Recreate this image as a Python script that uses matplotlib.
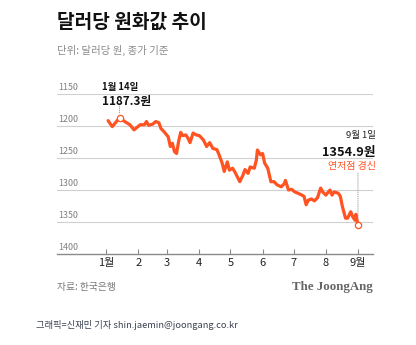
import matplotlib
matplotlib.use("Agg")
import matplotlib.pyplot as plt
import pandas as pd

plt.rcParams['font.family'] = ['Noto Sans CJK KR', 'DejaVu Sans']

# ---------------- data ----------------
dates = ["2022-01-03", "2022-01-07", "2022-01-14", "2022-01-19", "2022-01-24", "2022-01-28",
         "2022-02-03", "2022-02-07", "2022-02-09", "2022-02-11", "2022-02-15", "2022-02-18",
         "2022-02-21", "2022-02-23", "2022-02-26", "2022-03-02", "2022-03-04", "2022-03-06",
         "2022-03-08", "2022-03-10", "2022-03-12", "2022-03-14", "2022-03-16", "2022-03-19",
         "2022-03-21", "2022-03-23", "2022-03-26", "2022-03-29", "2022-04-01", "2022-04-05",
         "2022-04-08", "2022-04-11", "2022-04-14", "2022-04-18", "2022-04-20", "2022-04-23",
         "2022-04-25", "2022-04-28", "2022-04-30", "2022-05-03", "2022-05-05", "2022-05-10",
         "2022-05-13", "2022-05-15", "2022-05-18", "2022-05-20", "2022-05-24", "2022-05-26",
         "2022-05-27", "2022-05-30", "2022-06-01", "2022-06-03", "2022-06-06", "2022-06-09",
         "2022-06-12", "2022-06-15", "2022-06-19", "2022-06-22", "2022-06-23", "2022-06-26",
         "2022-06-29", "2022-07-02", "2022-07-05", "2022-07-09", "2022-07-11", "2022-07-13",
         "2022-07-15", "2022-07-18", "2022-07-21", "2022-07-24", "2022-07-27", "2022-07-29",
         "2022-08-01", "2022-08-05", "2022-08-07", "2022-08-09", "2022-08-13", "2022-08-15",
         "2022-08-17", "2022-08-20", "2022-08-22", "2022-08-25", "2022-08-27", "2022-08-29",
         "2022-08-30", "2022-09-01"]
values = [1191.6, 1201, 1187.3, 1193, 1198, 1206,
          1198, 1198, 1193, 1199, 1197, 1193,
          1195, 1204, 1209, 1217, 1232, 1227,
          1240, 1243, 1224, 1210, 1215, 1214,
          1219, 1226, 1211, 1214, 1215, 1222,
          1232, 1226, 1235, 1237, 1245, 1258,
          1271, 1256, 1269, 1266, 1271, 1287,
          1277, 1268, 1274, 1264, 1266, 1253,
          1237.5, 1245, 1243, 1258, 1266, 1287,
          1287, 1292, 1295, 1290, 1285, 1300,
          1299, 1303, 1305, 1308, 1310, 1323,
          1316, 1314, 1317, 1312, 1297, 1303,
          1308, 1300, 1308, 1303, 1305, 1310,
          1326, 1344, 1344, 1334, 1342, 1347,
          1338, 1354.9]
month_starts = ["2022-01-01", "2022-02-01", "2022-03-01", "2022-04-01", "2022-05-01",
                "2022-06-01", "2022-07-01", "2022-08-01", "2022-09-01"]
month_labels = ["1월", "2", "3", "4", "5", "6", "7", "8", "9월"]
y_ticks = [1150, 1200, 1250, 1300, 1350, 1400]

low_date, low_value = "2022-01-14", 1187.3
last_date, last_value = "2022-09-01", 1354.9

title = "달러당 원화값 추이"
subtitle = "단위: 달러당 원, 종가 기준"
source = "자료: 한국은행"
brand = "The JoongAng"
credit = "그래픽=신재민 기자 shin.jaemin@joongang.co.kr"

# ---------------- helpers ----------------
base = pd.Timestamp("2022-01-01")
def dnum(s):
    return (pd.Timestamp(s) - base).days

x = [dnum(d) for d in dates]
mx = [dnum(d) for d in month_starts]

W, H = 416, 345
fig = plt.figure(figsize=(W / 100, H / 100), dpi=100)
fig.patch.set_facecolor("white")

ax = fig.add_axes([57 / W, 1 - 254 / H, 316 / W, 160 / H])
ax.set_facecolor("white")

LINE = "#FF5322"

# grid lines
for v in y_ticks[:-1]:
    ax.axhline(v, color="#d0d0d0", lw=0.8, zorder=1)
for v in y_ticks:
    ax.annotate(str(v), xy=(0, v), xycoords=("axes fraction", "data"),
                xytext=(1, 7), textcoords="offset pixels", ha="left", va="center",
                fontsize=6.4, color="#808080")

ax.plot(x, values, color=LINE, lw=2.3, solid_joinstyle="round", solid_capstyle="round", zorder=3)

lx, ex = dnum(low_date), dnum(last_date)
ax.plot([lx, ex], [low_value, last_value], ls="none", marker="o", ms=4.5,
        mfc="white", mec=LINE, mew=0.9, zorder=4)

ax.set_xlim(-47.3, 257.5)
ax.set_ylim(1400, 1150)

for s in ["top", "right", "left"]:
    ax.spines[s].set_visible(False)
ax.spines["bottom"].set_color("#8a8a8a")
ax.spines["bottom"].set_linewidth(1.0)

ax.set_yticks([])
ax.set_xticks(mx)
ax.set_xticklabels(month_labels, fontsize=8.0, color="#222222")
ax.tick_params(axis="x", direction="in", length=3.5, width=0.8, color="#8a8a8a", pad=3)

# low annotation
ax.annotate("", xy=(lx, low_value), xytext=(0, 12), textcoords="offset pixels",
            arrowprops=dict(arrowstyle="-", ls=(0, (1, 1.5)), color="#999999", lw=0.6,
                            shrinkA=0, shrinkB=3))
ax.annotate("1월 14일", xy=(lx, low_value), xytext=(-18, 31), textcoords="offset pixels",
            ha="left", va="center", fontsize=6.8, fontweight="bold", color="#111111")
ax.annotate(f"{low_value:.1f}원", xy=(lx, low_value), xytext=(-18, 16), textcoords="offset pixels",
            ha="left", va="center", fontsize=8.4, fontweight="bold", color="#111111")

# last annotation
ax.annotate("", xy=(ex, last_value), xytext=(0, 52), textcoords="offset pixels",
            arrowprops=dict(arrowstyle="-", ls=(0, (1, 1.5)), color="#999999", lw=0.6,
                            shrinkA=0, shrinkB=3))
ax.annotate("9월 1일", xy=(ex, last_value), xytext=(18, 90), textcoords="offset pixels",
            ha="right", va="center", fontsize=6.8, color="#222222")
ax.annotate(f"{last_value:.1f}원", xy=(ex, last_value), xytext=(18, 73), textcoords="offset pixels",
            ha="right", va="center", fontsize=9.2, fontweight="bold", color="#111111")
ax.annotate("연저점 경신", xy=(ex, last_value), xytext=(18, 59), textcoords="offset pixels",
            ha="right", va="center", fontsize=7.2, color=LINE)

# texts outside
fig.text(57 / W, 1 - 22 / H, title, fontsize=13.8, fontweight="black", color="#111111",
         ha="left", va="center")
fig.text(57 / W, 1 - 50 / H, subtitle, fontsize=7.5, color="#8a8a8a", ha="left", va="center")
fig.text(57 / W, 1 - 287 / H, source, fontsize=7.0, color="#777777", ha="left", va="center")
fig.text(373 / W, 1 - 287 / H, brand, fontsize=9.3, fontweight="bold", color="#666666",
         ha="right", va="center", family=["Liberation Serif", "DejaVu Serif"])
fig.text(36 / W, 1 - 325 / H, credit, fontsize=6.7, color="#3a4050", ha="left", va="center")

fig.savefig("out.png", dpi=100, facecolor="white")
